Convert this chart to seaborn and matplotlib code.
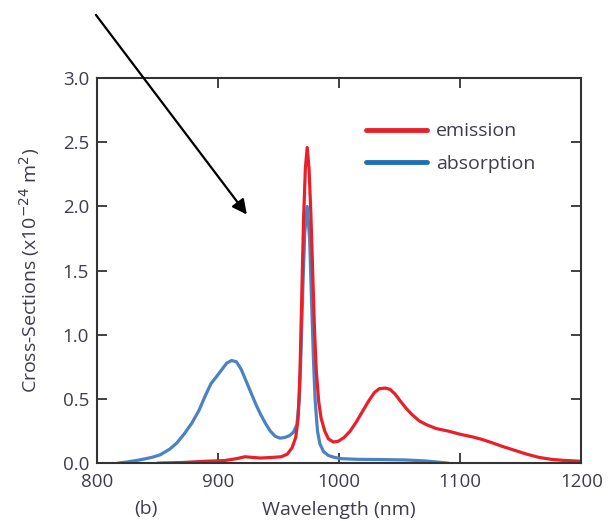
import pandas as pd
import seaborn as sns
import matplotlib.pyplot as plt

# wavelength (nm) / cross-section (x1e-24 m^2)
em_wl = [850, 870, 890, 905, 915, 922, 928, 935, 945, 952, 957, 961, 964, 966, 967.5, 969, 970.5, 972,
         973.5, 975, 976.5, 978, 979.5, 981, 983, 985, 988, 991, 995, 999, 1004, 1009, 1014, 1019, 1024,
         1029, 1033, 1038, 1042, 1046, 1050, 1055, 1060, 1066, 1072, 1080, 1090, 1100, 1110, 1118, 1126,
         1135, 1145, 1155, 1165, 1175, 1185, 1199]
em_cs = [0.0, 0.005, 0.015, 0.02, 0.035, 0.05, 0.045, 0.04, 0.045, 0.05, 0.07, 0.12, 0.2, 0.35, 0.7, 1.3,
         1.9, 2.3, 2.46, 2.3, 1.95, 1.5, 1.05, 0.72, 0.48, 0.35, 0.25, 0.19, 0.165, 0.17, 0.2, 0.25, 0.32,
         0.40, 0.48, 0.55, 0.58, 0.585, 0.575, 0.54, 0.49, 0.43, 0.38, 0.33, 0.30, 0.27, 0.25, 0.225, 0.205,
         0.185, 0.16, 0.13, 0.10, 0.07, 0.045, 0.03, 0.022, 0.015]

abs_wl = [817, 825, 835, 845, 852, 860, 866, 872, 878, 884, 889, 894, 899, 903, 907, 911, 915, 919, 923,
          927, 931, 935, 939, 943, 947, 951, 955, 959, 962, 965, 967, 968.5, 970, 971.5, 973.5, 975.5, 977,
          978.5, 980, 982, 984, 987, 991, 996, 1002, 1015, 1035, 1055, 1070, 1080, 1090]
abs_cs = [0.0, 0.01, 0.025, 0.045, 0.065, 0.11, 0.16, 0.23, 0.31, 0.41, 0.52, 0.62, 0.68, 0.73, 0.78, 0.80,
          0.79, 0.73, 0.64, 0.55, 0.46, 0.38, 0.31, 0.25, 0.21, 0.195, 0.20, 0.215, 0.24, 0.3, 0.5, 0.9,
          1.4, 1.8, 2.0, 1.75, 1.3, 0.85, 0.5, 0.25, 0.15, 0.09, 0.06, 0.045, 0.035, 0.03, 0.028, 0.025,
          0.018, 0.01, 0.0]

df_em = pd.DataFrame({"Wavelength": em_wl, "Cross": em_cs})
df_abs = pd.DataFrame({"Wavelength": abs_wl, "Cross": abs_cs})

sns.set_style("ticks")
plt.rcParams['font.family'] = ['Open Sans', 'DejaVu Sans']
txt = '#3d3d4d'

fig = plt.figure(figsize=(6.08, 5.21), dpi=100)
ax = fig.add_axes([0.160, 0.111, 0.796, 0.739])

sns.lineplot(data=df_em, x="Wavelength", y="Cross", sort=False, color='#e8202a', lw=2.3, label='emission', ax=ax)
sns.lineplot(data=df_abs, x="Wavelength", y="Cross", sort=False, color='#4a82c3', lw=2.3, label='absorption',
             ax=ax, zorder=1)

ax.set_xlim(800, 1200)
ax.set_ylim(0, 3.0)
ax.set_xticks([800, 900, 1000, 1100, 1200])
ax.set_yticks([0.0, 0.5, 1.0, 1.5, 2.0, 2.5, 3.0])
ax.set_yticklabels(['0.0', '0.5', '1.0', '1.5', '2.0', '2.5', '3.0'])
ax.tick_params(direction='in', length=7, width=1.3, top=True, right=True, labelsize=13.5, labelcolor=txt,
               color='#333333')
ax.tick_params(axis='x', pad=7)
ax.tick_params(axis='y', pad=6)
for s in ax.spines.values():
    s.set_color('#333333')
    s.set_linewidth(1.5)

ax.set_xlabel('Wavelength (nm)', fontsize=14, color=txt, labelpad=7)
ax.set_ylabel('Cross-Sections (x10$^{-24}$ m$^{2}$)', fontsize=14, color=txt, labelpad=15)
ax.text(0.101, -0.118, '(b)', transform=ax.transAxes, fontsize=14, color=txt, ha='center', va='center')

leg = ax.legend(loc='upper left', bbox_to_anchor=(0.556, 0.885), frameon=False, fontsize=14,
                handlelength=3.1, labelspacing=0.75, handletextpad=0.5, borderaxespad=0, borderpad=0)
for t in leg.get_texts():
    t.set_color(txt)
for l in leg.get_lines():
    l.set_linewidth(3.5)
leg.get_lines()[1].set_color('#1f6fb5')

ax.annotate('', xy=(925, 1.92), xytext=(797.5, 3.51), annotation_clip=False,
            arrowprops=dict(arrowstyle='-|>', color='black', lw=1.6, mutation_scale=22))

fig.savefig('out.png', dpi=100)
